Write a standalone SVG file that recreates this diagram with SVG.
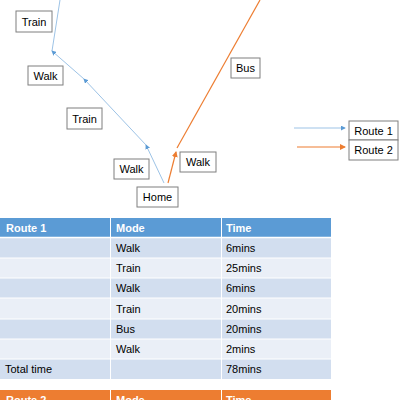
<svg xmlns="http://www.w3.org/2000/svg" width="400" height="400" viewBox="0 0 400 400">
<defs>
<marker id="ab" viewBox="0 0 6 6" refX="5" refY="3" markerWidth="5" markerHeight="5" orient="auto"><path d="M0,0 L6,3 L0,6 z" fill="#5B9BD5"/></marker>
<marker id="ao" viewBox="0 0 6 6" refX="5" refY="3" markerWidth="5" markerHeight="5" orient="auto"><path d="M0,0 L6,3 L0,6 z" fill="#ED7D31"/></marker>
<style>
.box{fill:#fff;stroke:#7f7f7f;stroke-width:1}
.t{font-family:"Liberation Sans",Arial,sans-serif;font-size:11px;fill:#000}
.b{stroke:#9DC3E6;stroke-width:1;fill:none}
.o{stroke:#ED7D31;stroke-width:1.2;fill:none}
.h{font-family:"Liberation Sans",Arial,sans-serif;font-size:11px;fill:#fff;font-weight:bold}
.c{font-family:"Liberation Sans",Arial,sans-serif;font-size:11px;fill:#000}
</style>
</defs>
<rect width="400" height="400" fill="#fff"/>
<g id="connectors">
<path class="b" d="M60,0 L52,51"/>
<path class="b" d="M164,183 L146,145" marker-end="url(#ab)"/>
<path class="b" d="M146,145 L84,79" marker-end="url(#ab)"/>
<path class="b" d="M84,79 L52,51" marker-end="url(#ab)"/>
<path class="o" d="M168,183 L176,152" marker-end="url(#ao)"/>
<path class="o" d="M177,148 L260,0"/>
<path class="b" d="M294,128 L345,128" marker-end="url(#ab)"/>
<path class="o" d="M297,147 L345,147" marker-end="url(#ao)"/>
</g>
<g id="train1"><rect class="box" x="16" y="11" width="36" height="21"/><text class="t" x="34" y="25.5" text-anchor="middle">Train</text></g>
<g id="walk1"><rect class="box" x="28" y="66" width="35" height="19"/><text class="t" x="45.5" y="79.5" text-anchor="middle">Walk</text></g>
<g id="train2"><rect class="box" x="67" y="108" width="35" height="21"/><text class="t" x="84.5" y="122.5" text-anchor="middle">Train</text></g>
<g id="walk2"><rect class="box" x="114" y="159" width="35" height="20"/><text class="t" x="131.5" y="173" text-anchor="middle">Walk</text></g>
<g id="home"><rect class="box" x="137" y="187" width="41" height="20"/><text class="t" x="157.5" y="201" text-anchor="middle">Home</text></g>
<g id="walk3"><rect class="box" x="180" y="152" width="36" height="20"/><text class="t" x="198" y="166" text-anchor="middle">Walk</text></g>
<g id="bus"><rect class="box" x="231" y="58" width="29" height="20"/><text class="t" x="245.5" y="72" text-anchor="middle">Bus</text></g>
<g id="route1"><rect class="box" x="349" y="121" width="49" height="19"/><text class="t" x="373.5" y="134.5" text-anchor="middle">Route 1</text></g>
<g id="route2"><rect class="box" x="349" y="140" width="49" height="20"/><text class="t" x="373.5" y="154" text-anchor="middle">Route 2</text></g>
<g id="table1">
<rect x="0" y="218" width="331" height="19" fill="#5B9BD5"/>
<rect x="0" y="238" width="331" height="20" fill="#D2DEEF"/>
<rect x="0" y="258" width="331" height="20" fill="#EAEFF7"/>
<rect x="0" y="278" width="331" height="20" fill="#D2DEEF"/>
<rect x="0" y="298" width="331" height="21" fill="#EAEFF7"/>
<rect x="0" y="319" width="331" height="20" fill="#D2DEEF"/>
<rect x="0" y="339" width="331" height="20" fill="#EAEFF7"/>
<rect x="0" y="359" width="331" height="20" fill="#D2DEEF"/>
<g stroke="#fff" stroke-width="1">
<line x1="110.5" y1="218" x2="110.5" y2="379"/>
<line x1="221.5" y1="218" x2="221.5" y2="379"/>
<line x1="0" y1="237.5" x2="331" y2="237.5" stroke-width="1.5"/>
<line x1="0" y1="258" x2="331" y2="258"/>
<line x1="0" y1="278" x2="331" y2="278"/>
<line x1="0" y1="298" x2="331" y2="298"/>
<line x1="0" y1="319" x2="331" y2="319"/>
<line x1="0" y1="339" x2="331" y2="339"/>
<line x1="0" y1="359" x2="331" y2="359"/>
</g>
<text class="h" x="6" y="232">Route 1</text>
<text class="h" x="116" y="232">Mode</text>
<text class="h" x="226" y="232">Time</text>
<text class="c" x="116" y="252">Walk</text><text class="c" x="226" y="252">6mins</text>
<text class="c" x="116" y="272">Train</text><text class="c" x="226" y="272">25mins</text>
<text class="c" x="116" y="292">Walk</text><text class="c" x="226" y="292">6mins</text>
<text class="c" x="116" y="313">Train</text><text class="c" x="226" y="313">20mins</text>
<text class="c" x="116" y="333">Bus</text><text class="c" x="226" y="333">20mins</text>
<text class="c" x="116" y="353">Walk</text><text class="c" x="226" y="353">2mins</text>
<text class="c" x="5" y="373">Total time</text><text class="c" x="226" y="373">78mins</text>
</g>
<g id="table2">
<rect x="0" y="390" width="331" height="19" fill="#ED7D31"/>
<g stroke="#fff" stroke-width="1">
<line x1="110.5" y1="390" x2="110.5" y2="400"/>
<line x1="221.5" y1="390" x2="221.5" y2="400"/>
</g>
<text class="h" x="6" y="404">Route 2</text>
<text class="h" x="116" y="404">Mode</text>
<text class="h" x="226" y="404">Time</text>
</g>
</svg>
